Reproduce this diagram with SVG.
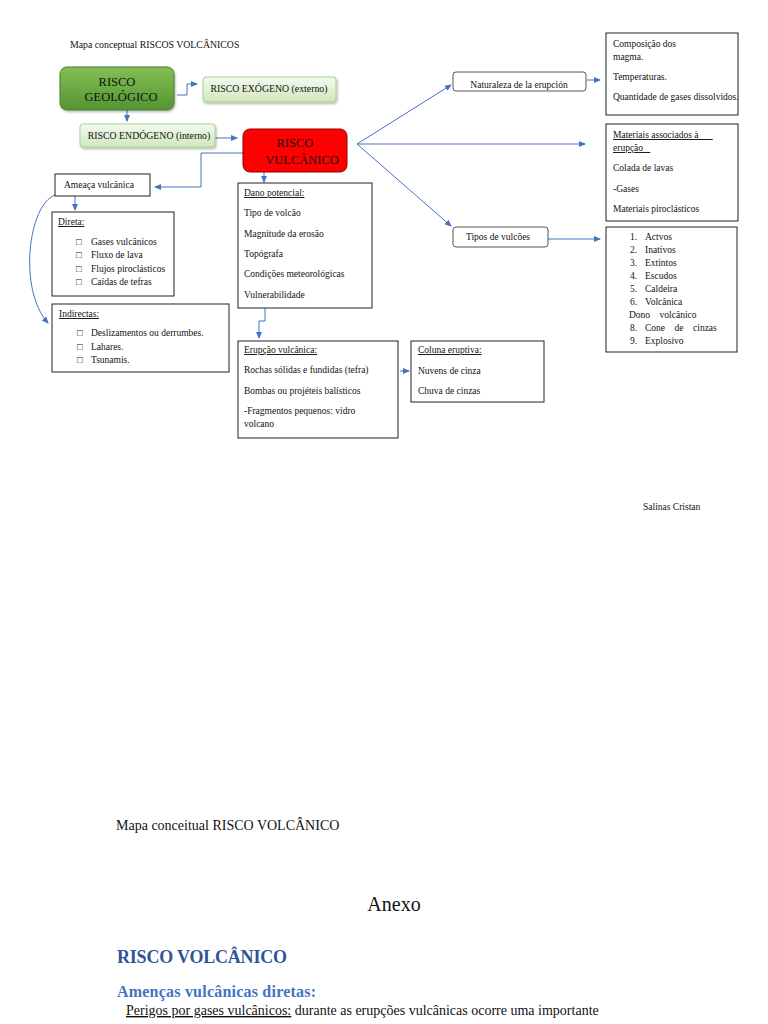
<svg xmlns="http://www.w3.org/2000/svg" width="768" height="1024" viewBox="0 0 768 1024">
<defs>
<linearGradient id="gGreen" x1="0" y1="0" x2="0" y2="1">
<stop offset="0" stop-color="#82bf55"/><stop offset="1" stop-color="#559433"/>
</linearGradient>
<linearGradient id="gLight" x1="0" y1="0" x2="0" y2="1">
<stop offset="0" stop-color="#f4faef"/><stop offset="1" stop-color="#cfe7bf"/>
</linearGradient>
<marker id="ar" markerWidth="8" markerHeight="8" refX="6" refY="4" orient="auto" markerUnits="userSpaceOnUse">
<path d="M0,1 L7,4 L0,7 Z" fill="#4472C4"/>
</marker>
<clipPath id="natClip"><rect x="453" y="72" width="133" height="18"/></clipPath>
<filter id="sh" x="-10%" y="-10%" width="130%" height="140%"><feDropShadow dx="1" dy="1.5" stdDeviation="1" flood-color="#000" flood-opacity="0.3"/></filter>
</defs>
<style>
text{font-family:"Liberation Serif","Times New Roman",serif;fill:#111;}
.s{font-size:9.5px;}
.t{font-size:9.8px;}
.big{font-size:12.5px;}
.box{fill:#fff;stroke:#222;stroke-width:1;}
.rbox{fill:#fff;stroke:#555;stroke-width:1;}
.c{fill:none;stroke:#4472C4;stroke-width:1;}
.u{text-decoration:underline;}
</style>

<text class="t" x="70" y="48">Mapa conceptual RISCOS VOLCÂNICOS</text>

<g id="connectors">
<path class="c" d="M177,95 H187 V84 H197" marker-end="url(#ar)"/>
<path class="c" d="M127,110 V121" marker-end="url(#ar)"/>
<path class="c" d="M215,138 H237" marker-end="url(#ar)"/>
<path class="c" d="M243,153 H201 V187 H155" marker-end="url(#ar)"/>
<path class="c" d="M264,172 V182" marker-end="url(#ar)"/>
<path class="c" d="M75,196 V210" marker-end="url(#ar)"/>
<path class="c" d="M55,195 C28,205 18,290 48,323" marker-end="url(#ar)"/>
<path class="c" d="M265,308 V321 H259 V338" marker-end="url(#ar)"/>
<path class="c" d="M400,371 H409" marker-end="url(#ar)"/>
<path class="c" d="M357,144 L451,85" marker-end="url(#ar)"/>
<path class="c" d="M357,144 H585" marker-end="url(#ar)"/>
<path class="c" d="M357,144 L451,226" marker-end="url(#ar)"/>
<path class="c" d="M587,80 H600" marker-end="url(#ar)"/>
<path class="c" d="M548,239 H600" marker-end="url(#ar)"/>
</g>

<g id="risco-geologico">
<rect x="60" y="67" width="114" height="43" rx="7" fill="url(#gGreen)" stroke="#4a7d2c" stroke-width="1" filter="url(#sh)"/>
<text class="big" x="117" y="86" text-anchor="middle">RISCO</text>
<text class="big" x="121" y="101" text-anchor="middle">GEOLÓGICO</text>
</g>

<g id="risco-exogeno">
<rect x="203" y="77" width="133" height="25" rx="3" fill="url(#gLight)" stroke="#a9d18e" stroke-width="1" filter="url(#sh)"/>
<text class="t" x="269" y="92" text-anchor="middle">RISCO EXÓGENO (externo)</text>
</g>

<g id="risco-endogeno">
<rect x="80" y="124" width="135" height="23" rx="3" fill="url(#gLight)" stroke="#a9d18e" stroke-width="1" filter="url(#sh)"/>
<text class="t" x="149" y="139" text-anchor="middle">RISCO ENDÓGENO (interno)</text>
</g>

<g id="risco-vulcanico">
<rect x="243" y="129" width="104" height="43" rx="7" fill="#ff0000" stroke="#8a0000" stroke-width="1"/>
<text class="big" x="295" y="147" text-anchor="middle">RISCO</text>
<text class="big" x="302" y="164" text-anchor="middle">VULCÂNICO</text>
</g>

<g id="ameaca">
<rect class="box" x="55" y="174" width="95" height="22"/>
<text class="s" x="64" y="188">Ameaça vulcânica</text>
</g>

<g id="direta">
<rect class="box" x="52" y="212" width="122" height="84"/>
<text class="s u" x="58" y="225">Direta: </text>
<text class="s" x="76" y="245">□</text><text class="s" x="91" y="245">Gases vulcânicos</text>
<text class="s" x="76" y="258">□</text><text class="s" x="91" y="258">Fluxo de lava</text>
<text class="s" x="76" y="272">□</text><text class="s" x="91" y="272">Flujos piroclásticos</text>
<text class="s" x="76" y="285">□</text><text class="s" x="91" y="285">Caídas de tefras</text>
</g>

<g id="indirectas">
<rect class="box" x="52" y="304" width="177" height="68"/>
<text class="s u" x="59" y="317">Indirectas:</text>
<text class="s" x="77" y="336">□</text><text class="s" x="91" y="336">Deslizamentos ou derrumbes.</text>
<text class="s" x="77" y="350">□</text><text class="s" x="91" y="350">Lahares.</text>
<text class="s" x="77" y="363">□</text><text class="s" x="91" y="363">Tsunamis.</text>
</g>

<g id="dano">
<rect class="box" x="238" y="183" width="134" height="125"/>
<text class="s u" x="244" y="196">Dano potencial:</text>
<text class="s" x="244" y="216">Tipo de volcão</text>
<text class="s" x="244" y="237">Magnitude da erosão</text>
<text class="s" x="244" y="257">Topógrafa</text>
<text class="s" x="244" y="277">Condições meteorológicas</text>
<text class="s" x="244" y="298">Vulnerabilidade</text>
</g>

<g id="erupcao">
<rect class="box" x="238" y="341" width="160" height="97"/>
<text class="s u" x="244" y="353">Erupção vulcânica:</text>
<text class="s" x="244" y="373">Rochas sólidas e fundidas (tefra)</text>
<text class="s" x="244" y="394">Bombas ou projéteis balísticos</text>
<text class="s" x="244" y="414">-Fragmentos pequenos: vidro</text>
<text class="s" x="244" y="427">volcano</text>
</g>

<g id="coluna">
<rect class="box" x="411" y="341" width="133" height="61"/>
<text class="s u" x="418" y="353">Coluna eruptiva: </text>
<text class="s" x="418" y="374">Nuvens de cinza</text>
<text class="s" x="418" y="394">Chuva de cinzas</text>
</g>

<g id="naturaleza">
<rect class="rbox" x="453" y="72" width="133" height="19" rx="3"/>
<text class="s" x="519" y="88" text-anchor="middle" clip-path="url(#natClip)">Naturaleza de la erupción</text>
</g>

<g id="composicao">
<rect class="box" x="606" y="33" width="132" height="82"/>
<text class="s" x="613" y="47">Composição dos</text>
<text class="s" x="613" y="60">magma.</text>
<text class="s" x="613" y="80">Temperaturas.</text>
<text class="s" x="613" y="100">Quantidade de gases dissolvidos.</text>
</g>

<g id="materiais">
<rect class="box" x="606" y="124" width="132" height="97"/>
<text class="s u" x="613" y="138" xml:space="preserve">Materiais associados à      </text>
<text class="s u" x="613" y="151" xml:space="preserve">erupção   </text>
<text class="s" x="613" y="171">Colada de lavas</text>
<text class="s" x="613" y="192">-Gases</text>
<text class="s" x="613" y="212">Materiais piroclásticos</text>
</g>

<g id="tipos">
<rect class="rbox" x="453" y="227" width="95" height="20" rx="3"/>
<text class="s" x="466" y="240">Tipos de vulcões</text>
</g>

<g id="lista-tipos">
<rect class="box" x="606" y="227" width="131" height="125"/>
<text class="s" x="630" y="240">1.</text><text class="s" x="645" y="240">Actvos</text>
<text class="s" x="630" y="253">2.</text><text class="s" x="645" y="253">Inativos</text>
<text class="s" x="630" y="266">3.</text><text class="s" x="645" y="266">Extintos</text>
<text class="s" x="630" y="279">4.</text><text class="s" x="645" y="279">Escudos</text>
<text class="s" x="630" y="292">5.</text><text class="s" x="645" y="292">Caldeira</text>
<text class="s" x="630" y="305">6.</text><text class="s" x="645" y="305">Volcânica</text>
<text class="s" x="629" y="318" xml:space="preserve">Dono    volcânico</text>
<text class="s" x="630" y="331">8.</text><text class="s" x="645" y="331" xml:space="preserve">Cone    de    cinzas</text>
<text class="s" x="630" y="344">9.</text><text class="s" x="645" y="344">Explosivo</text>
</g>

<text class="s" x="643" y="510">Salinas Cristan</text>

<text x="116" y="830" font-size="14">Mapa conceitual RISCO VOLCÂNICO</text>
<text x="394" y="911" font-size="20" text-anchor="middle">Anexo</text>
<text x="117" y="963" font-size="18" font-weight="bold" style="fill:#2F5597" textLength="170">RISCO VOLCÂNICO</text>
<text x="117" y="997" font-size="16" font-weight="bold" style="fill:#4472C4" textLength="199">Amenças vulcânicas diretas:</text>
<text x="126" y="1015" font-size="14"><tspan text-decoration="underline">Perigos por gases vulcânicos:</tspan> durante as erupções vulcânicas ocorre uma importante</text>
</svg>
